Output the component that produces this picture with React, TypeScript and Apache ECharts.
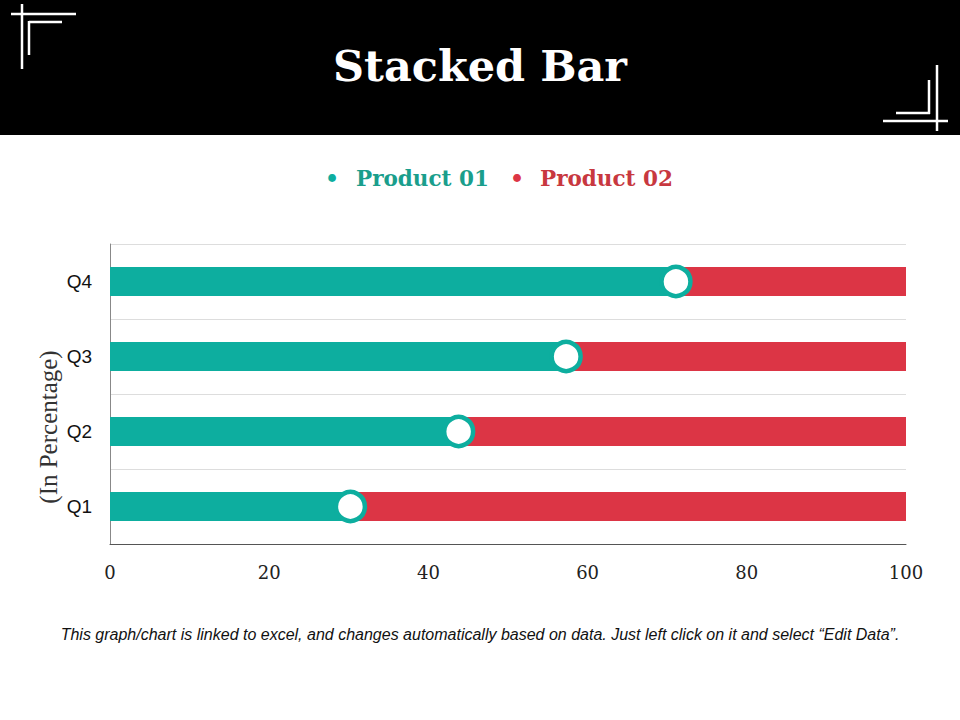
import React, { useEffect, useRef } from "react";
import * as echarts from "echarts";

const categories = ["Q1", "Q2", "Q3", "Q4"];
const product01 = [30.2, 43.8, 57.3, 71.1];
const product02 = [69.8, 56.2, 42.7, 28.9];
const xTicks = [0, 20, 40, 60, 80, 100];
const seriesNames = ["Product 01", "Product 02"];
const axisTitle = "(In Percentage)";

const TEAL = "#0DAE9F";
const RED = "#DC3545";

export default function App() {
  const ref = useRef<HTMLDivElement>(null);
  useEffect(() => {
    document.body.style.margin = "0";
    const chart = echarts.init(ref.current!, null, { renderer: "svg" });
    const line = (x1: number, y1: number, x2: number, y2: number) => ({
      type: "line",
      shape: { x1, y1, x2, y2 },
      style: { stroke: "#fff", lineWidth: 2.5 },
      silent: true,
    });
    chart.setOption({
      animation: false,
      backgroundColor: "#fff",
      grid: { left: 110, right: 54, top: 244, bottom: 176, containLabel: false },
      xAxis: {
        type: "value",
        min: xTicks[0],
        max: xTicks[xTicks.length - 1],
        interval: 20,
        axisLine: { show: true, lineStyle: { color: "#555", width: 1 } },
        axisTick: { show: false },
        splitLine: { show: false },
        axisLabel: {
          margin: 19,
          fontFamily: "DejaVu Serif",
          fontSize: 18,
          color: "#222",
        },
      },
      yAxis: {
        type: "category",
        data: categories,
        axisLine: { show: true, lineStyle: { color: "#888", width: 1 } },
        axisTick: { show: false },
        splitLine: { show: true, lineStyle: { color: "#ddd", width: 1 } },
        axisLabel: {
          margin: 18,
          fontFamily: "Liberation Sans",
          fontSize: 19,
          color: "#111",
        },
      },
      series: [
        {
          name: seriesNames[0],
          type: "bar",
          stack: "total",
          data: product01,
          barWidth: 29,
          itemStyle: { color: TEAL },
        },
        {
          name: seriesNames[1],
          type: "bar",
          stack: "total",
          data: product02,
          barWidth: 29,
          itemStyle: { color: RED },
        },
        {
          name: "marker",
          type: "scatter",
          data: product01.map((v, i) => [v, categories[i]]),
          symbol: "circle",
          symbolSize: 29,
          z: 5,
          itemStyle: { color: "#fff", borderColor: TEAL, borderWidth: 4.5, opacity: 1 },
        },
      ],
      graphic: [
        { type: "rect", shape: { x: 0, y: 0, width: 960, height: 135 }, style: { fill: "#000" }, silent: true },
        line(22, 4, 22, 69),
        line(11, 14, 76, 14),
        line(29, 21, 29, 55),
        line(29, 22, 62, 22),
        line(937, 65, 937, 131),
        line(883, 121, 948, 121),
        line(929, 80, 929, 114),
        line(896, 113, 930, 113),
        {
          type: "text",
          x: 480,
          y: 66,
          style: {
            text: "Stacked Bar",
            fill: "#fff",
            font: "bold 43px 'DejaVu Serif'",
            textAlign: "center",
            textVerticalAlign: "middle",
          },
        },
        {
          type: "text",
          x: 332,
          y: 178,
          style: { text: "•", fill: TEAL, font: "bold 22px 'DejaVu Serif'", textAlign: "center", textVerticalAlign: "middle" },
        },
        {
          type: "text",
          x: 356,
          y: 178,
          style: { text: seriesNames[0], fill: "#1A9E8C", font: "bold 21.5px 'DejaVu Serif'", textAlign: "left", textVerticalAlign: "middle" },
        },
        {
          type: "text",
          x: 517,
          y: 178,
          style: { text: "•", fill: RED, font: "bold 22px 'DejaVu Serif'", textAlign: "center", textVerticalAlign: "middle" },
        },
        {
          type: "text",
          x: 540,
          y: 178,
          style: { text: seriesNames[1], fill: "#C8383F", font: "bold 21.5px 'DejaVu Serif'", textAlign: "left", textVerticalAlign: "middle" },
        },
        {
          type: "text",
          x: 48,
          y: 427,
          rotation: Math.PI / 2,
          style: {
            text: axisTitle,
            fill: "#333",
            font: "25px 'Liberation Serif'",
            textAlign: "center",
            textVerticalAlign: "middle",
          },
        },
        {
          type: "text",
          x: 480,
          y: 634,
          style: {
            text: "This graph/chart is linked to excel, and changes automatically based on data. Just left click on it and select \u201CEdit Data\u201D.",
            fill: "#111",
            font: "italic 16px 'Liberation Sans'",
            textAlign: "center",
            textVerticalAlign: "middle",
          },
        },
      ],
    });
    return () => chart.dispose();
  }, []);
  return <div ref={ref} style={{ width: 960, height: 720 }} />;
}
